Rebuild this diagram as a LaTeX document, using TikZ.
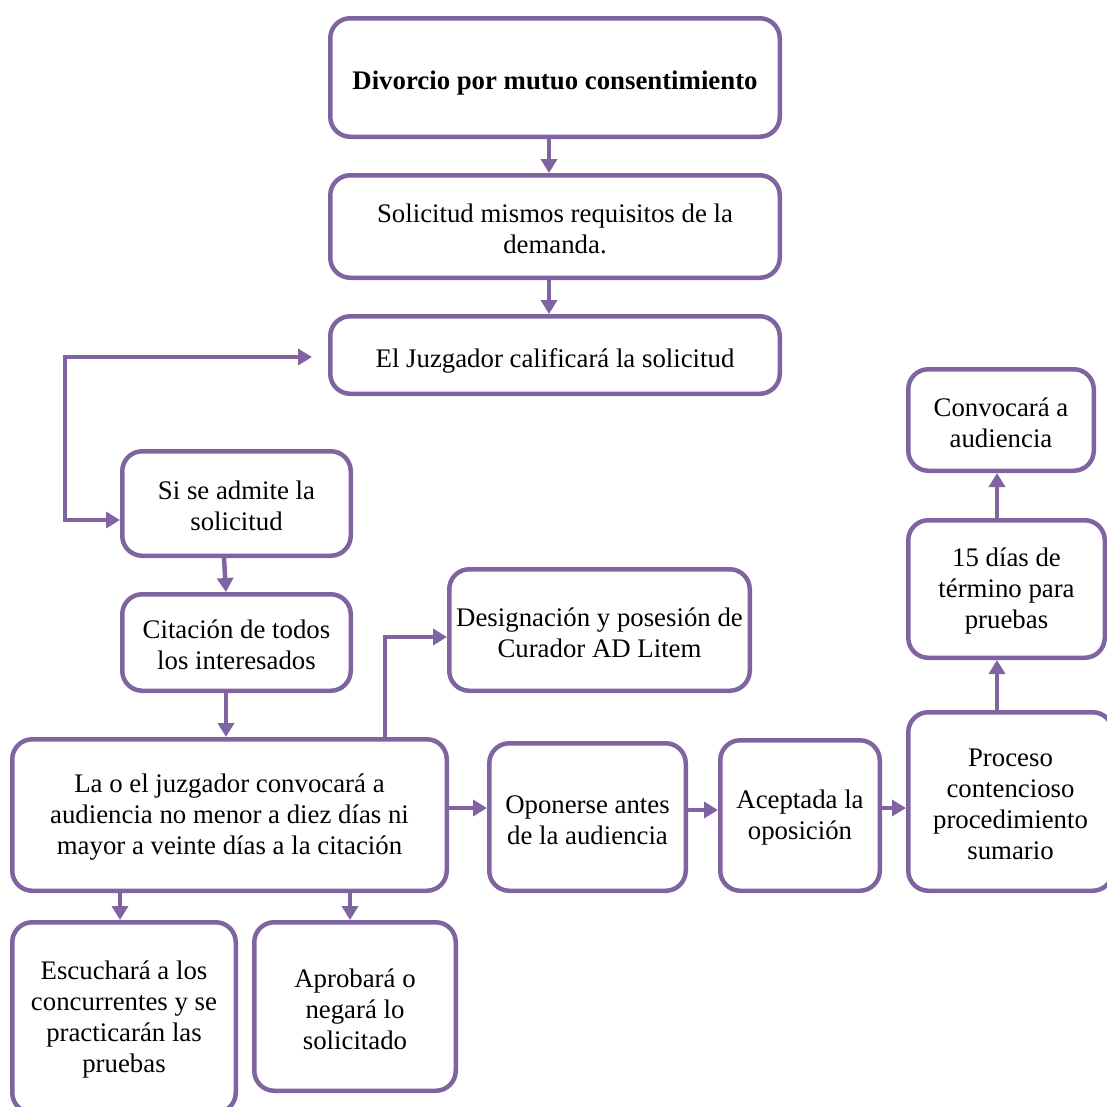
\documentclass[tikz,border=0pt]{standalone}
\usepackage{fontspec}
\setmainfont{Liberation Serif}
\usetikzlibrary{arrows.meta}
\definecolor{pur}{RGB}{128,100,162}
\newcommand\tup{\rule{0pt}{23.5pt}}
\begin{document}
\begin{tikzpicture}[x=1pt,y=-1pt,
  box/.style={draw=pur, line width=4.5pt, rounded corners=20pt, fill=white,
    align=center, inner sep=0pt, font=\fontsize{26.8}{31}\selectfont},
  arr/.style={draw=pur, line width=4.5pt, -{Triangle[length=14pt,width=16pt]}},
  arrb/.style={draw=pur, line width=4.5pt, {Triangle[length=14pt,width=16pt]}-{Triangle[length=14pt,width=16pt]}}]
\useasboundingbox (0,0) rectangle (1107,1106);
\node[box, minimum width=449.5pt, minimum height=118.5pt] (b1) at (555,77.5) {\rule{0pt}{30pt}\textbf{Divorcio por mutuo consentimiento}};
\node[box, minimum width=449.5pt, minimum height=102.5pt] (b2) at (555,226.5) {\tup Solicitud mismos requisitos de la\\demanda.};
\node[box, minimum width=449.5pt, minimum height=77.5pt] (b3) at (555,355) {\rule{0pt}{30pt}El Juzgador calificará la solicitud};
\node[box, minimum width=228.5pt, minimum height=104.5pt] (b4) at (236.5,503.5) {\tup Si se admite la\\solicitud};
\node[box, minimum width=228.5pt, minimum height=96.5pt] (b5) at (236.5,642.5) {\tup Citación de todos\\los interesados};
\node[box, minimum width=434.5pt, minimum height=151.5pt] (b6) at (229.5,815) {\tup La o el juzgador convocará a\\audiencia no menor a diez días ni\\mayor a veinte días a la citación};
\node[box, minimum width=300.5pt, minimum height=121.5pt] (b7) at (599.5,630) {\tup Designación y posesión de\\Curador AD Litem};
\node[box, minimum width=196.5pt, minimum height=147.5pt] (b8) at (587.5,817) {\tup Oponerse antes\\de la audiencia};
\node[box, minimum width=159.5pt, minimum height=150.5pt] (b9) at (800,815.5) {\tup Aceptada la\\oposición};
\node[box, minimum width=204.5pt, minimum height=178.5pt] (b10) at (1010.5,801.5) {\tup Proceso\\contencioso\\procedimiento\\sumario};
\node[box, minimum width=196.5pt, minimum height=137.5pt] (b11) at (1006.5,589) {\tup 15 días de\\término para\\pruebas};
\node[box, minimum width=185.5pt, minimum height=101.5pt] (b12) at (1001,420) {\tup Convocará a\\audiencia};
\node[box, minimum width=223.5pt, minimum height=190.5pt] (b13) at (124,1017.5) {\tup Escuchará a los\\concurrentes y se\\practicarán las\\pruebas};
\node[box, minimum width=201.5pt, minimum height=168.5pt] (b14) at (355,1006.5) {\tup Aprobará o\\negará lo\\solicitado};
\coordinate (lt) at (312,357);
\coordinate (lc) at (65,357);
\draw[arr] ([xshift=-6pt]b1.south) -- ([xshift=-6pt]b2.north);
\draw[arr] ([xshift=-6pt]b2.south) -- ([xshift=-6pt]b3.north);
\draw[arrb] (lt) -- (lc) |- ([yshift=-16.5pt]b4.west);
\draw[arr] ([xshift=-12.5pt]b4.south) -- ([xshift=-10.5pt]b5.north);
\draw[arr] ([xshift=-10.5pt]b5.south) -- ([xshift=-3.5pt]b6.north);
\draw[arr] ([xshift=155.5pt]b6.north) |- ([yshift=-7pt]b7.west);
\draw[arr] ([yshift=7pt]b6.east) -- ([yshift=9pt]b8.west);
\draw[arr] ([yshift=7pt]b8.east) -- ([yshift=5.5pt]b9.west);
\draw[arr] ([yshift=7.5pt]b9.east) -- ([yshift=-6.5pt]b10.west);
\draw[arr] ([xshift=-13.5pt]b10.north) -- ([xshift=-9.5pt]b11.south);
\draw[arr] ([xshift=-9.5pt]b11.north) -- ([xshift=-4pt]b12.south);
\draw[arr] ([xshift=-109.5pt]b6.south) -- ([xshift=-4pt]b13.north);
\draw[arr] ([xshift=120.5pt]b6.south) -- ([xshift=-5pt]b14.north);
\end{tikzpicture}
\end{document}
